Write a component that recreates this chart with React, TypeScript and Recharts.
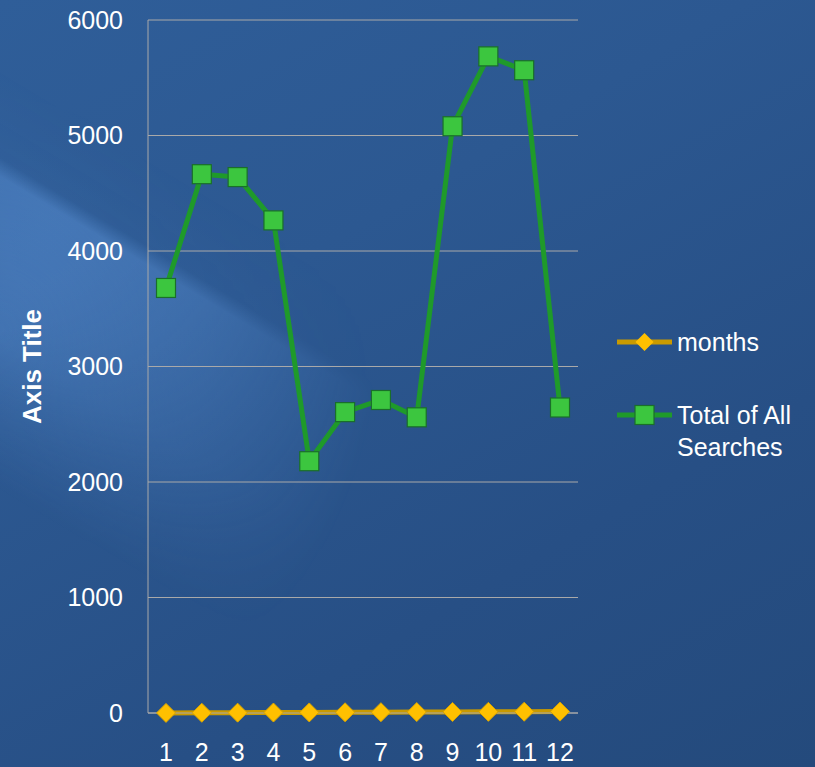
import { LineChart, Line, XAxis, YAxis, CartesianGrid } from 'recharts';

const months = ['1', '2', '3', '4', '5', '6', '7', '8', '9', '10', '11', '12'];
const monthValues = [1, 2, 3, 4, 5, 6, 7, 8, 9, 10, 11, 12];
const totalSearches = [3680, 4665, 4640, 4265, 2180, 2605, 2710, 2560, 5080, 5685, 5565, 2645];
const yTicks = [0, 1000, 2000, 3000, 4000, 5000, 6000];

const data = months.map((m, i) => ({
  month: m,
  months: monthValues[i],
  total: totalSearches[i],
}));

const FONT = '"Liberation Sans", Arial, sans-serif';

const GOLD_LINE = '#c99a00';
const GOLD_FILL = '#ffc000';
const GREEN_LINE = '#1f9a2a';
const GREEN_FILL = '#3cc63f';
const GREEN_EDGE = '#1a6f2a';

const Diamond = (props: any) => {
  const { cx, cy } = props;
  if (cx == null || cy == null) return null;
  const r = 9.5;
  return (
    <path
      d={`M${cx},${cy - r}L${cx + r},${cy}L${cx},${cy + r}L${cx - r},${cy}Z`}
      fill={GOLD_FILL}
      stroke="#d9a400"
      strokeWidth={1}
    />
  );
};

const Square = (props: any) => {
  const { cx, cy } = props;
  if (cx == null || cy == null) return null;
  const s = 19;
  return (
    <rect
      x={cx - s / 2}
      y={cy - s / 2}
      width={s}
      height={s}
      fill={GREEN_FILL}
      stroke={GREEN_EDGE}
      strokeWidth={1.2}
    />
  );
};

const AxisTitle = (props: any) => {
  const { viewBox } = props;
  const cy = viewBox.y + viewBox.height / 2;
  return (
    <text
      x={32}
      y={cy}
      transform={`rotate(-90, 32, ${cy})`}
      textAnchor="middle"
      dominantBaseline="central"
      fill="#ffffff"
      fontFamily={FONT}
      fontWeight="bold"
      fontSize={26}
    >
      Axis Title
    </text>
  );
};

// legend drawn beside the plot, outside recharts' layout
const LegendBox = () => (
  <svg width={200} height={150} style={{ position: 'absolute', left: 615, top: 320 }}>
    <line x1={2} y1={22} x2={57} y2={22} stroke={GOLD_LINE} strokeWidth={5} />
    <path d="M29.5,13L38.5,22L29.5,31L20.5,22Z" fill={GOLD_FILL} />
    <text x={62} y={31} fill="#fff" fontFamily={FONT} fontSize={25}>
      months
    </text>
    <line x1={2} y1={95} x2={57} y2={95} stroke={GREEN_LINE} strokeWidth={5} />
    <rect x={20} y={85.5} width={19} height={19} fill={GREEN_FILL} stroke={GREEN_EDGE} strokeWidth={1.2} />
    <text x={62} y={104} fill="#fff" fontFamily={FONT} fontSize={25}>
      Total of All
    </text>
    <text x={62} y={136} fill="#fff" fontFamily={FONT} fontSize={25}>
      Searches
    </text>
  </svg>
);

const sheen =
  'linear-gradient(31deg, rgba(120,180,255,0) 0%, rgba(120,180,255,0) 22%, rgba(120,180,255,0.28) 34%, rgba(120,180,255,0.42) 45%, rgba(120,180,255,0.45) 47%, rgba(120,180,255,0.06) 48.5%, rgba(120,180,255,0) 56%)';
const sheenMask = 'radial-gradient(ellipse 380px 420px at 0px 330px, #000 0%, rgba(0,0,0,0.5) 55%, transparent 100%)';

export default function App() {
  return (
    <div
      style={{
        position: 'fixed',
        left: 0,
        top: 0,
        width: 815,
        height: 767,
        overflow: 'hidden',
        background: 'linear-gradient(150deg, #2f5e99 0%, #2c5891 35%, #274f85 70%, #244a7c 100%)',
      }}
    >
      <div
        style={{
          position: 'absolute',
          inset: 0,
          background: sheen,
          WebkitMaskImage: sheenMask,
          maskImage: sheenMask,
        }}
      />
      <div style={{ position: 'absolute', left: 0, top: 0 }}>
        <LineChart
          width={815}
          height={767}
          data={data}
          margin={{ top: 20, right: 237, bottom: 0, left: 0 }}
        >
          <CartesianGrid vertical={false} stroke="#a9a9a9" strokeWidth={1} />
          <XAxis
            dataKey="month"
            height={54}
            axisLine={{ stroke: '#a9a9a9' }}
            tickLine={false}
            tickMargin={24}
            padding={{ left: 18, right: 18 }}
            tick={{ fill: '#ffffff', fontSize: 25, fontFamily: FONT }}
            interval={0}
          />
          <YAxis
            width={148}
            domain={[0, 6000]}
            ticks={yTicks}
            axisLine={{ stroke: '#a9a9a9' }}
            tickLine={false}
            tickSize={0}
            tickMargin={25}
            tick={{ fill: '#ffffff', fontSize: 25, fontFamily: FONT }}
            label={<AxisTitle />}
          />
          <Line
            type="linear"
            dataKey="months"
            name="months"
            stroke={GOLD_LINE}
            strokeWidth={5}
            dot={<Diamond />}
            activeDot={false}
            isAnimationActive={false}
          />
          <Line
            type="linear"
            dataKey="total"
            name="Total of All Searches"
            stroke={GREEN_LINE}
            strokeWidth={5}
            dot={<Square />}
            activeDot={false}
            isAnimationActive={false}
          />
        </LineChart>
      </div>
      <LegendBox />
    </div>
  );
}
